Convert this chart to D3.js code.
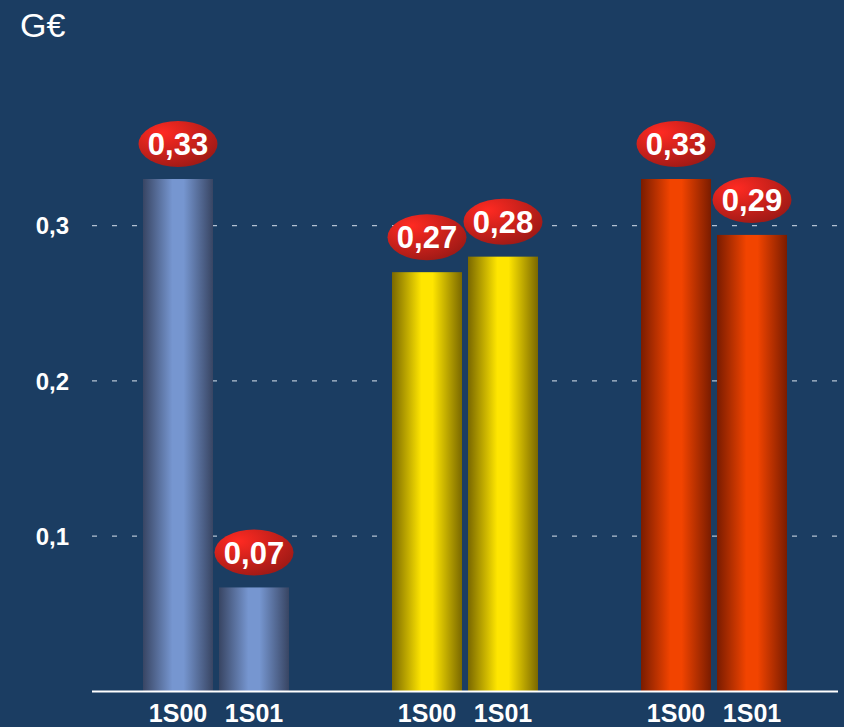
<!DOCTYPE html>
<html>
<head>
<meta charset="utf-8">
<script src="https://cdn.jsdelivr.net/npm/d3@7"></script>
<style>
  html, body { margin: 0; padding: 0; background: #1b3d62; }
  svg { display: block; }
</style>
</head>
<body>
<div id="chart"></div>
<script>
// data
var groups = ["g1", "g2", "g3"];
var periods = ["1S00", "1S01"];
var values1 = [0.33, 0.067];
var values2 = [0.27, 0.28];
var values3 = [0.33, 0.294];
var yTicks = [0.1, 0.2, 0.3];
var unitLabel = "G€";

var groupColors = {
  g1: {edge: "#384563", mid: "#7696d0"},
  g2: {edge: "#7a6800", mid: "#ffe600"},
  g3: {edge: "#7a1c00", mid: "#f24400"}
};

var data = [];
[values1, values2, values3].forEach(function(vals, i) {
  vals.forEach(function(v, j) {
    data.push({group: groups[i], period: periods[j], value: v});
  });
});

var width = 844, height = 727;
var fmt = function(v) { return d3.format(".2f")(v).replace(".", ","); };

var svg = d3.select("#chart")
    .append("svg")
    .attr("width", width)
    .attr("height", height)
    .style("background", "#1b3d62");

var defs = svg.append("defs");

// horizontal cylinder-like gradients for bars
groups.forEach(function(g) {
  var grad = defs.append("linearGradient")
      .attr("id", "bar-" + g)
      .attr("x1", "0%").attr("y1", "0%")
      .attr("x2", "100%").attr("y2", "0%");
  grad.append("stop").attr("offset", "0%").attr("stop-color", groupColors[g].edge);
  grad.append("stop").attr("offset", "42%").attr("stop-color", groupColors[g].mid);
  grad.append("stop").attr("offset", "58%").attr("stop-color", groupColors[g].mid);
  grad.append("stop").attr("offset", "100%").attr("stop-color", groupColors[g].edge);
});

// gradient for the red value bubbles
var bub = defs.append("radialGradient")
    .attr("id", "bubble")
    .attr("cx", "30%").attr("cy", "25%").attr("r", "80%");
bub.append("stop").attr("offset", "0%").attr("stop-color", "#ff2a22");
bub.append("stop").attr("offset", "100%").attr("stop-color", "#a11a16");

// scales
var x0 = d3.scaleBand()
    .domain(groups)
    .range([91.5, 838.5])
    .padding(0);

var x1 = d3.scaleBand()
    .domain(periods)
    .range([51.5, 197.5])
    .paddingInner(6 / 76)
    .paddingOuter(0);

var y = d3.scaleLinear()
    .domain([0, 0.445])
    .range([691.5, 0.4]);

// gridlines
svg.append("g")
    .selectAll("line")
    .data(yTicks)
    .enter()
    .append("line")
    .attr("x1", 92)
    .attr("x2", 840)
    .attr("y1", function(d) { return y(d); })
    .attr("y2", function(d) { return y(d); })
    .attr("stroke", "#b4c2d2")
    .attr("stroke-width", 1.3)
    .attr("stroke-dasharray", "5,15");

// y axis labels
var yAxis = svg.append("g")
    .attr("transform", "translate(69,0)")
    .call(d3.axisLeft(y).tickValues(yTicks).tickSize(0).tickPadding(0).tickFormat(function(d) { return d3.format(".1f")(d).replace(".", ","); }));
yAxis.select(".domain").remove();
yAxis.selectAll("text")
    .attr("fill", "#ffffff")
    .attr("font-family", "Liberation Sans, Arial, sans-serif")
    .attr("font-weight", "bold")
    .attr("font-size", 24)
    .attr("dy", "0.35em");

// bars
var gGroups = svg.append("g")
    .selectAll("g")
    .data(groups)
    .enter()
    .append("g")
    .attr("transform", function(g) { return "translate(" + x0(g) + ",0)"; });

gGroups.selectAll("rect")
    .data(function(g) { return data.filter(function(d) { return d.group === g; }); })
    .enter()
    .append("rect")
    .attr("x", function(d) { return x1(d.period); })
    .attr("y", function(d) { return y(d.value); })
    .attr("width", x1.bandwidth())
    .attr("height", function(d) { return y(0) - y(d.value); })
    .style("fill", function(d) { return "url(#bar-" + d.group + ")"; });

// value bubbles
var bubbles = gGroups.selectAll("g.bubble")
    .data(function(g) { return data.filter(function(d) { return d.group === g; }); })
    .enter()
    .append("g")
    .attr("class", "bubble")
    .attr("transform", function(d) {
      return "translate(" + (x1(d.period) + x1.bandwidth() / 2) + "," + (y(d.value) - 35) + ")";
    });

bubbles.append("ellipse")
    .attr("rx", 39.5)
    .attr("ry", 23)
    .style("fill", "url(#bubble)");

bubbles.append("text")
    .attr("text-anchor", "middle")
    .attr("dy", "0.36em")
    .attr("fill", "#ffffff")
    .attr("font-family", "Liberation Sans, Arial, sans-serif")
    .attr("font-weight", "bold")
    .attr("font-size", 31)
    .text(function(d) { return fmt(d.value); });

// baseline
svg.append("line")
    .attr("x1", 92)
    .attr("x2", 838)
    .attr("y1", y(0))
    .attr("y2", y(0))
    .attr("stroke", "#ffffff")
    .attr("stroke-width", 2);

// category labels
gGroups.selectAll("text.cat")
    .data(function(g) { return data.filter(function(d) { return d.group === g; }); })
    .enter()
    .append("text")
    .attr("class", "cat")
    .attr("x", function(d) { return x1(d.period) + x1.bandwidth() / 2; })
    .attr("y", 722)
    .attr("text-anchor", "middle")
    .attr("fill", "#ffffff")
    .attr("font-family", "Liberation Sans, Arial, sans-serif")
    .attr("font-weight", "bold")
    .attr("font-size", 25)
    .text(function(d) { return d.period; });

// unit
svg.append("text")
    .attr("x", 20)
    .attr("y", 37)
    .attr("fill", "#ffffff")
    .attr("font-family", "Liberation Sans, Arial, sans-serif")
    .attr("font-size", 34)
    .text(unitLabel);
</script>
</body>
</html>
